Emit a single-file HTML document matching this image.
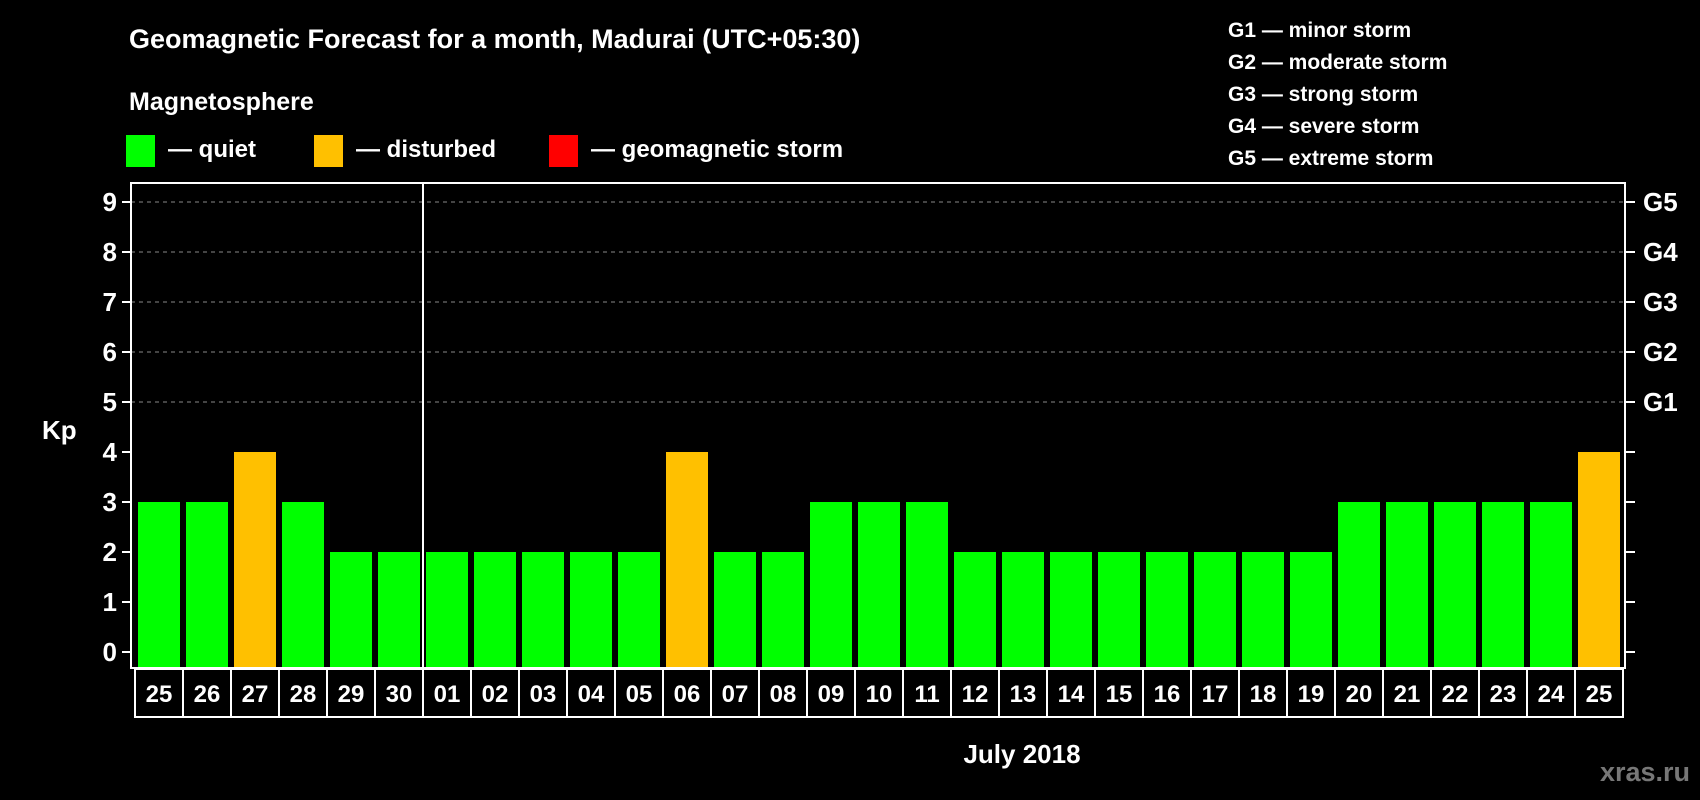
<!DOCTYPE html>
<html><head><meta charset="utf-8"><style>
html,body{margin:0;padding:0;background:#000;}
svg{display:block;font-family:"Liberation Sans",Arial,sans-serif;font-weight:bold;}
</style></head><body>
<svg id="chart" width="1700" height="800" viewBox="0 0 1700 800" xmlns="http://www.w3.org/2000/svg">
<rect width="1700" height="800" fill="#000"/>
<text x="129" y="48" fill="#fff" font-size="27">Geomagnetic Forecast for a month, Madurai (UTC+05:30)</text>
<text x="129" y="110" fill="#fff" font-size="25">Magnetosphere</text>
<g><rect x="126" y="135" width="29" height="32" fill="#00ff00"/><text x="168" y="157" fill="#fff" font-size="24">— quiet</text></g>
<g><rect x="314" y="135" width="29" height="32" fill="#ffc000"/><text x="356" y="157" fill="#fff" font-size="24">— disturbed</text></g>
<g><rect x="549" y="135" width="29" height="32" fill="#ff0000"/><text x="591" y="157" fill="#fff" font-size="24">— geomagnetic storm</text></g>
<g fill="#fff" font-size="21">
<text x="1228" y="37">G1 — minor storm</text>
<text x="1228" y="69">G2 — moderate storm</text>
<text x="1228" y="101">G3 — strong storm</text>
<text x="1228" y="133">G4 — severe storm</text>
<text x="1228" y="165">G5 — extreme storm</text>
</g>
<text x="42" y="439" fill="#fff" font-size="26">Kp</text>
<text x="1022" y="763" fill="#fff" font-size="26" text-anchor="middle">July 2018</text>
<text x="1690" y="781" fill="#777" font-size="27" text-anchor="end">xras.ru</text>
<g id="grid"></g><g id="bars"></g><g id="axes"></g><g id="labels"></g>
</svg>
<script>
const days = ["25","26","27","28","29","30","01","02","03","04","05","06","07","08","09","10","11","12","13","14","15","16","17","18","19","20","21","22","23","24","25"];
const kpValues = [3,3,4,3,2,2,2,2,2,2,2,4,2,2,3,3,3,2,2,2,2,2,2,2,2,3,3,3,3,3,4];
const yTicks = [0,1,2,3,4,5,6,7,8,9];
const gLabels = ["","","","","","G1","G2","G3","G4","G5"];
const NS="http://www.w3.org/2000/svg";
const plotL=131, plotR=1625, plotT=183, plotB=668, step=48, cellL=135;
function y(v){return 652 - v*50;}
function xCol(i){return cellL + i*step;}
function mk(tag, attrs, parent){const e=document.createElementNS(NS,tag);for(const k in attrs)e.setAttribute(k,attrs[k]);parent.appendChild(e);return e;}
const grid=document.getElementById('grid'), bars=document.getElementById('bars'), axes=document.getElementById('axes'), labels=document.getElementById('labels');
yTicks.forEach((v,i)=>{
  if(v>=5){const l=mk('line',{x1:plotL,x2:plotR,y1:y(v),y2:y(v),stroke:'#888','stroke-width':1,'stroke-dasharray':'4,4'},grid);
  
  }
  const t1=mk('line',{x1:122,x2:plotL,y1:y(v),y2:y(v),stroke:'#fff','stroke-width':2},axes);
  
  
  const t2=mk('line',{x1:plotR,x2:1635,y1:y(v),y2:y(v),stroke:'#fff','stroke-width':2},axes);
  
  
  const tl=mk('text',{x:117,y:y(v)+9,fill:'#fff','font-size':26,'text-anchor':'end'},axes);
  tl.textContent=v;
  
  
  if(gLabels[i]){const g=mk('text',{x:1643,y:y(v)+9,fill:'#fff','font-size':26},axes);
  g.textContent=gLabels[i];
  
  }
});
kpValues.forEach((v,i)=>{
  const col = v>=5?'#ff0000':(v>=4?'#ffc000':'#00ff00');
  const b=mk('rect',{x:xCol(i)+3,y:y(v),width:42,height:plotB-y(v),fill:col},bars);
  
  
  const c=mk('rect',{x:xCol(i),y:669,width:step,height:48,fill:'none',stroke:'#fff','stroke-width':2},labels);
  
  
  const t=mk('text',{x:xCol(i)+step/2,y:702,fill:'#fff','font-size':24,'text-anchor':'middle'},labels);
  t.textContent=days[i];
  
  
});
const frame=mk('rect',{x:plotL,y:plotT,width:plotR-plotL,height:plotB-plotT,fill:'none',stroke:'#fff','stroke-width':2},axes);


const mi=days.indexOf("01");
const div=mk('line',{x1:xCol(mi),x2:xCol(mi),y1:plotT,y2:plotB,stroke:'#fff','stroke-width':2},axes);


</script>
</body></html>
